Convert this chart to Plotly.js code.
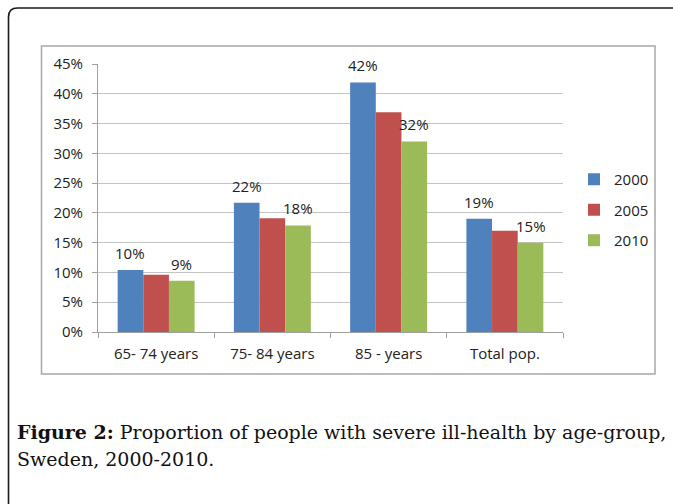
<!DOCTYPE html>
<html>
<head>
<meta charset="utf-8">
<script src="https://cdn.plot.ly/plotly-3.0.1.min.js"></script>
<style>
html,body{margin:0;padding:0;background:#fff;}
#chart{width:673px;height:504px;}
</style>
</head>
<body>
<div id="chart"></div>
<script>
// ---- data ----
const categories = ['65- 74 years', '75- 84 years', '85 - years', 'Total pop.'];
const years = ['2000', '2005', '2010'];
const values2000 = [0.104, 0.217, 0.419, 0.190];
const values2005 = [0.096, 0.191, 0.369, 0.170];
const values2010 = [0.086, 0.179, 0.320, 0.150];
const yTickVals = [0, 0.05, 0.10, 0.15, 0.20, 0.25, 0.30, 0.35, 0.40, 0.45];
const captionBold = 'Figure 2:';
const captionLine1 = 'Proportion of people with severe ill-health by age-group,';
const captionLine2 = 'Sweden, 2000-2010.';

// ---- layout geometry (pixels) ----
const W = 673, H = 504;
const plotL = 98, plotR = 563, plotT = 64, plotB = 332;
const px = x => (x - plotL) / (plotR - plotL);
const py = y => (plotB - y) / (plotB - plotT);

const colors = ['#4F81BD', '#C0504D', '#9BBB59'];
const font = "Open Sans, sans-serif";
const textColor = '#222222';
const bargap = 0.338;

const series = [values2000, values2005, values2010];
const traces = series.map((vals, i) => ({
  type: 'bar',
  name: years[i],
  x: categories,
  y: vals,
  marker: {color: colors[i], line: {width: 0}},
  legendgroup: 'g' + i,
  hoverinfo: 'none'
}));

// data labels (only first and last series are labelled)
const barW = (1 - bargap) / 3;
const annotations = [];
[[0, -1], [2, 1]].forEach(([si, dir]) => {
  series[si].forEach((v, ci) => {
    annotations.push({
      x: ci + dir * barW, y: v, xref: 'x', yref: 'y',
      text: Math.round(v * 100) + '%',
      showarrow: false, yshift: 17,
      font: {family: font, size: 15, color: textColor}
    });
  });
});

// caption
const capFont = {family: "DejaVu Serif, serif", size: 19, color: '#111'};
annotations.push({
  xref: 'paper', yref: 'paper', x: px(15), y: py(432),
  xanchor: 'left', yanchor: 'middle', showarrow: false,
  text: '<b>' + captionBold + '</b> ' + captionLine1,
  font: capFont
});
annotations.push({
  xref: 'paper', yref: 'paper', x: px(15), y: py(459),
  xanchor: 'left', yanchor: 'middle', showarrow: false,
  text: captionLine2,
  font: capFont
});

// frames
const r = 9;
const fx = 8.5, fy = 8;
const framePath = 'M ' + px(fx) + ',' + py(H + 10) +
  ' L ' + px(fx) + ',' + py(fy + r) +
  ' Q ' + px(fx) + ',' + py(fy) + ' ' + px(fx + r) + ',' + py(fy) +
  ' L ' + px(W + 10) + ',' + py(fy);

const shapes = [
  {type: 'path', xref: 'paper', yref: 'paper', path: framePath,
   line: {color: '#1a1a1a', width: 1.6}, layer: 'below'},
  {type: 'rect', xref: 'paper', yref: 'paper',
   x0: px(41.5), x1: px(655), y0: py(46), y1: py(374),
   line: {color: '#a8a8a8', width: 1.5}, fillcolor: 'rgba(0,0,0,0)', layer: 'below'}
];

const layout = {
  width: W, height: H,
  margin: {l: plotL, r: W - plotR, t: plotT, b: H - plotB, pad: 0},
  paper_bgcolor: '#fff', plot_bgcolor: 'rgba(0,0,0,0)',
  barmode: 'group', bargap: bargap, bargroupgap: 0,
  showlegend: true,
  legend: {
    x: px(574), y: py(163), xanchor: 'left', yanchor: 'top',
    font: {family: font, size: 15, color: textColor},
    tracegroupgap: 8, itemwidth: 30, bgcolor: 'rgba(0,0,0,0)'
  },
  xaxis: {
    type: 'category',
    showline: true, linecolor: '#a0a0a0', linewidth: 1,
    ticks: 'outside', ticklen: 5, tickcolor: '#a0a0a0', tickson: 'boundaries',
    ticklabelstandoff: 8,
    tickfont: {family: font, size: 15, color: textColor},
    showgrid: false, zeroline: false, fixedrange: true
  },
  yaxis: {
    range: [0, 0.45], tickvals: yTickVals, tickformat: '.0%',
    showline: true, linecolor: '#a0a0a0', linewidth: 1,
    ticks: 'outside', ticklen: 5, tickcolor: '#a0a0a0',
    ticklabelstandoff: 6,
    showgrid: true, gridcolor: '#c4c4c4', gridwidth: 1,
    tickfont: {family: font, size: 15, color: textColor},
    zeroline: false, fixedrange: true
  },
  annotations: annotations,
  shapes: shapes
};

Plotly.newPlot('chart', traces, layout, {staticPlot: true, displayModeBar: false});
</script>
</body>
</html>
